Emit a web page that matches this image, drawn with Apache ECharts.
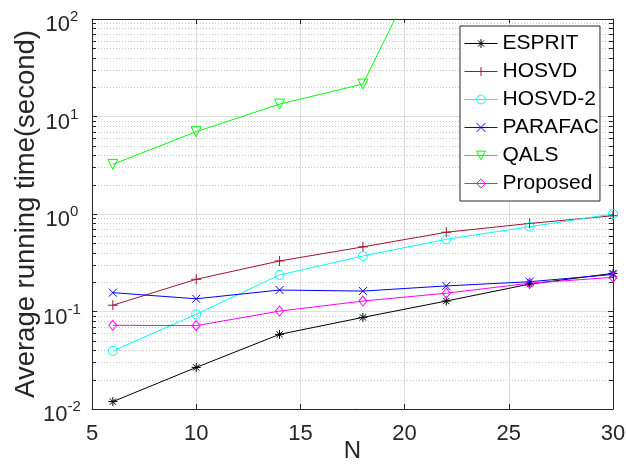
<!DOCTYPE html>
<html><head><meta charset="utf-8">
<script src="https://cdn.jsdelivr.net/npm/echarts@6/dist/echarts.min.js"></script>
<style>html,body{margin:0;padding:0;background:#fff}#c{width:626px;height:465px}</style>
</head><body><div id="c"></div>
<script>
const xValues = [6, 10, 14, 18, 22, 26, 30];
const esprit = [0.0119, 0.0267, 0.0583, 0.087, 0.128, 0.191, 0.246];
const hosvd = [0.116, 0.214, 0.33, 0.46, 0.65, 0.80, 0.96];
const hosvd2 = [0.0394, 0.0936, 0.237, 0.371, 0.55, 0.74, 1.0];
const parafac = [0.156, 0.135, 0.166, 0.162, 0.183, 0.202, 0.24];
const qalsX = [6, 10, 14, 18, 22];
const qals = [3.23, 6.98, 13.4, 21.5, 1170];
const proposed = [0.0722, 0.0716, 0.101, 0.128, 0.154, 0.195, 0.224];
const seriesNames = ['ESPRIT', 'HOSVD', 'HOSVD-2', 'PARAFAC', 'QALS', 'Proposed'];
const xTicks = [5, 10, 15, 20, 25, 30];
const yTicks = [0.01, 0.1, 1, 10, 100];
const yExponents = ['-2', '-1', '0', '1', '2'];
const minorMultipliers = [2, 3, 4, 5, 6, 7, 8, 9];

const FONT = '"Liberation Sans", Arial, Helvetica, sans-serif';
const AX = '#262626';
const colors = ['#000000', '#A2142F', '#00FFFF', '#0000FF', '#00FF00', '#FF00FF'];
const symbols = [
  'path://M5,0L5,10M0,5L10,5M1.5,1.5L8.5,8.5M8.5,1.5L1.5,8.5',
  'path://M5,0L5,10M0,5L10,5',
  'path://M10,5A5,5,0,1,1,0,5A5,5,0,1,1,10,5Z',
  'path://M0,0L10,10M10,0L0,10',
  'path://M0,0L10,0L5,10Z',
  'path://M5,0L10,5L5,10L0,5Z'
];
const sizes = [9, 10, 9, 8, 10, [8, 10]];
const seriesData = [
  xValues.map((x, i) => [x, esprit[i]]),
  xValues.map((x, i) => [x, hosvd[i]]),
  xValues.map((x, i) => [x, hosvd2[i]]),
  xValues.map((x, i) => [x, parafac[i]]),
  qalsX.map((x, i) => [x, qals[i]]),
  xValues.map((x, i) => [x, proposed[i]])
];

const minorValues = [];
for (let k = 0; k < yTicks.length - 1; k++) {
  minorMultipliers.forEach(m => minorValues.push([xTicks[0], yTicks[k] * m]));
}

const chart = echarts.init(document.getElementById('c'), null, {renderer: 'canvas'});
const xMin = xTicks[0], xMax = xTicks[xTicks.length - 1];

const lineSeries = seriesNames.map((name, i) => ({
  name: name,
  type: 'line',
  data: seriesData[i],
  symbol: symbols[i],
  symbolSize: sizes[i],
  showSymbol: true,
  showAllSymbol: true,
  clip: true,
  z: 5,
  animation: false,
  silent: true,
  color: colors[i],
  lineStyle: {color: colors[i], width: 1},
  itemStyle: {color: 'rgba(0,0,0,0)', borderColor: colors[i], borderWidth: 1},
  emphasis: {disabled: true}
}));

const minorSeries = {
  type: 'custom',
  silent: true,
  z: 1,
  animation: false,
  data: minorValues,
  encode: {x: 0, y: 1},
  renderItem: function (params, api) {
    const v = api.value(1);
    const p1 = api.coord([xMin, v]);
    const p2 = api.coord([xMax, v]);
    const y = Math.round(p1[1]) + 0.5;
    return {
      type: 'group',
      children: [
        {type: 'line', shape: {x1: p1[0], y1: y, x2: p2[0], y2: y}, style: {stroke: '#c8c8c8', lineWidth: 1, lineDash: [1, 2]}},
        {type: 'line', shape: {x1: p1[0], y1: y, x2: p1[0] + 4, y2: y}, style: {stroke: AX, lineWidth: 1}},
        {type: 'line', shape: {x1: p2[0] - 4, y1: y, x2: p2[0], y2: y}, style: {stroke: AX, lineWidth: 1}}
      ]
    };
  }
};

const option = {
  backgroundColor: '#fff',
  animation: false,
  grid: {left: 92, right: 13, top: 19, bottom: 56, containLabel: false, outerBoundsMode: 'none'},
  legend: {
    data: seriesNames,
    orient: 'vertical',
    left: 460, top: 26,
    itemWidth: 33, itemHeight: 11, itemGap: 7,
    padding: [7, 1, 7, 4],
    borderColor: AX, borderWidth: 1, borderRadius: 0,
    backgroundColor: '#fff',
    selectedMode: false,
    itemStyle: {borderWidth: 1},
    lineStyle: {width: 1},
    textStyle: {fontSize: 21, lineHeight: 21, color: '#000', fontFamily: FONT}
  },
  xAxis: [{
    type: 'value', min: xMin, max: xMax, interval: 5,
    name: 'N', nameLocation: 'middle', nameGap: 30, nameMoveOverlap: false,
    nameTextStyle: {fontSize: 24, color: AX, fontFamily: FONT},
    axisLine: {show: true, lineStyle: {color: AX, width: 1}},
    axisTick: {show: true, inside: true, length: 5, lineStyle: {color: AX}},
    axisLabel: {fontSize: 22, color: AX, fontFamily: FONT, margin: 14},
    splitLine: {show: true, lineStyle: {color: '#dedede', width: 1}}
  }, {
    type: 'value', position: 'top', min: xMin, max: xMax, interval: 5,
    axisLine: {show: true, lineStyle: {color: AX, width: 1}},
    axisTick: {show: true, inside: true, length: 5, lineStyle: {color: AX}},
    axisLabel: {show: false},
    splitLine: {show: false}
  }],
  yAxis: [{
    type: 'log', logBase: 10, min: yTicks[0], max: yTicks[yTicks.length - 1],
    name: 'Average running time(second)', nameLocation: 'middle', nameGap: 52, nameMoveOverlap: false,
    nameTextStyle: {fontSize: 27.5, color: AX, fontFamily: FONT},
    axisLine: {show: true, lineStyle: {color: AX, width: 1}},
    axisTick: {show: true, inside: true, length: 5, lineStyle: {color: AX}},
    axisLabel: {
      margin: 30, align: 'center', color: AX, fontFamily: FONT,
      formatter: function (v) {
        const idx = Math.round(Math.log10(v)) + 2;
        return '{b|10}{s|' + yExponents[idx] + '}';
      },
      rich: {
        b: {fontSize: 22, color: AX, fontFamily: FONT, padding: [12, 0, 0, 0]},
        s: {fontSize: 15, color: AX, fontFamily: FONT, padding: [0, 0, 4, 0]}
      }
    },
    splitLine: {show: true, lineStyle: {color: '#dedede', width: 1}}
  }, {
    type: 'log', logBase: 10, min: yTicks[0], max: yTicks[yTicks.length - 1], position: 'right',
    axisLine: {show: true, lineStyle: {color: AX, width: 1}},
    axisTick: {show: true, inside: true, length: 5, lineStyle: {color: AX}},
    axisLabel: {show: false},
    splitLine: {show: false}
  }],
  series: [minorSeries].concat(lineSeries)
};
chart.setOption(option);
</script>
</body></html>
